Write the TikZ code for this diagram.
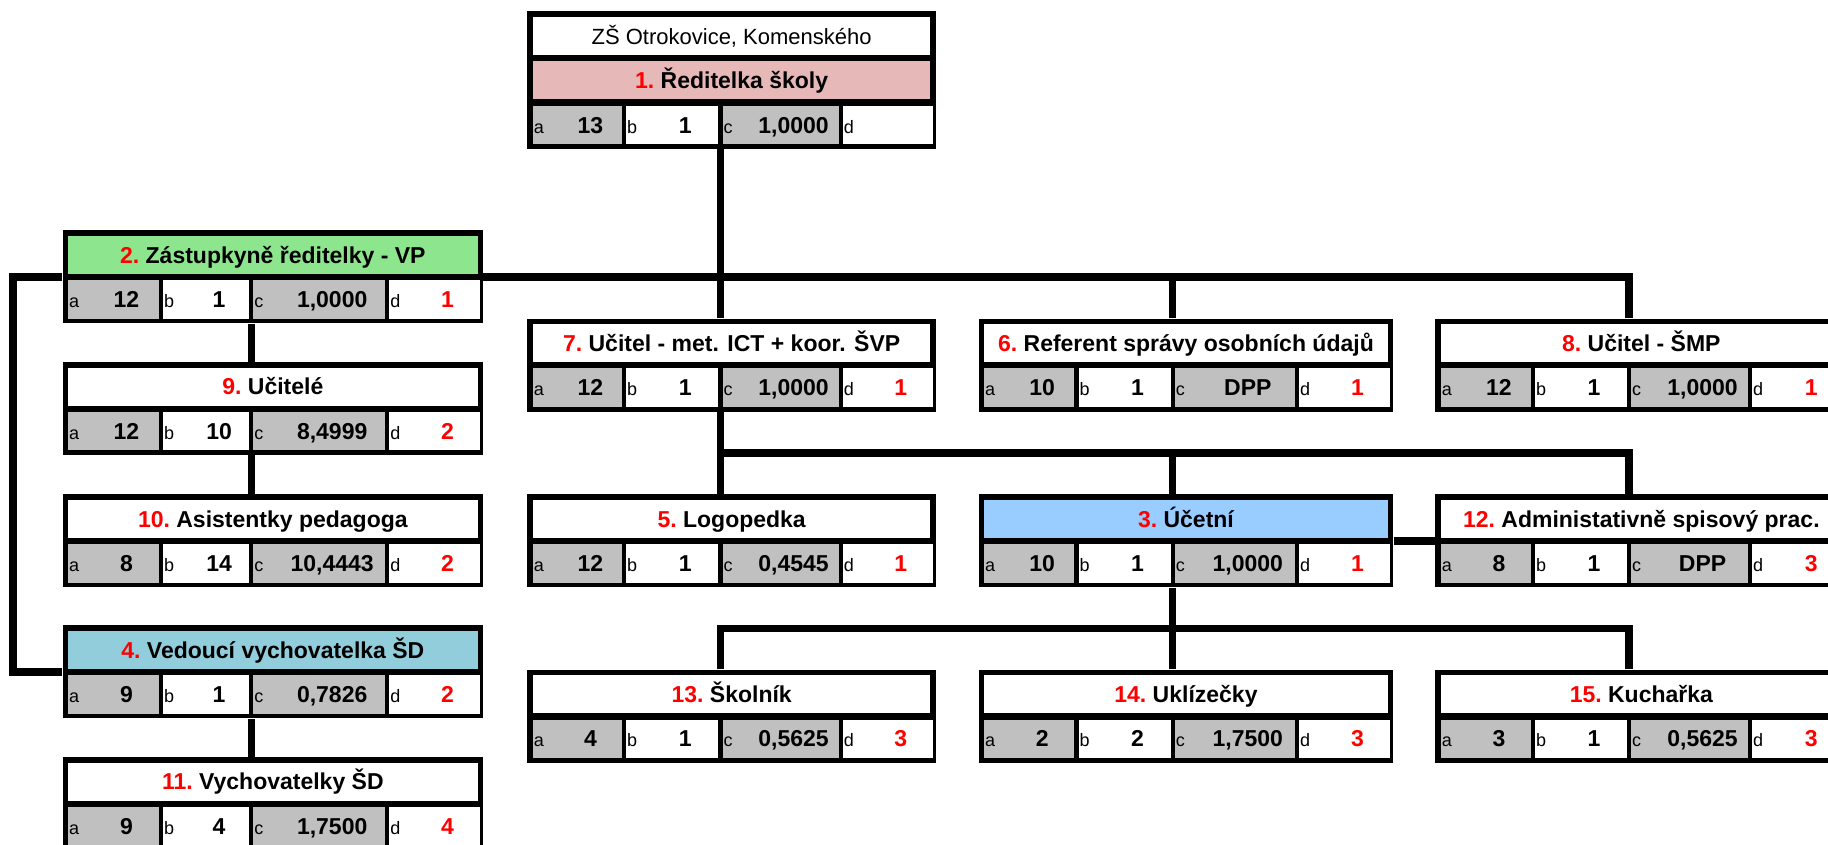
\documentclass[tikz,border=0pt]{standalone}
\usepackage{fontspec}
\setmainfont{Liberation Sans}
\usetikzlibrary{positioning,calc}

\definecolor{hdrpink}{RGB}{230,184,183}
\definecolor{hdrgreen}{RGB}{141,230,141}
\definecolor{hdrblue}{RGB}{153,204,255}
\definecolor{hdrteal}{RGB}{146,205,220}
\definecolor{cellgray}{RGB}{192,192,192}

\pgfdeclarelayer{lines}
\pgfsetlayers{lines,main}

\newdimen\cwa \newdimen\cwb \newdimen\cwc \newdimen\cwd
\newdimen\boxw \newdimen\hdrw
\newcommand{\setcols}[4]{%
  \cwa=0.5\dimexpr#1pt\relax \cwb=0.5\dimexpr#2pt\relax
  \cwc=0.5\dimexpr#3pt\relax \cwd=0.5\dimexpr#4pt\relax
  \hdrw=\dimexpr\cwa+\cwb+\cwc+\cwd+5.25pt\relax
  \boxw=\dimexpr\hdrw+5.5pt\relax}
\newcommand{\nr}[1]{{\color{red}#1.}\ }
\newcommand{\cellval}[3]{\hbox to #1{\kern0.5pt\rlap{\fontsize{9}{10}\selectfont #2}\kern12.5pt\hfil\bfseries #3\hfil}}

\tikzset{
  frame/.style={fill=black, inner sep=0pt, minimum height=46.5pt},
  hdr/.style={inner sep=0pt, minimum height=19pt, text height=8.2pt, text depth=0pt,
    font=\fontsize{11.5}{13}\selectfont\bfseries},
  cell/.style={fill=white, inner sep=0pt, minimum height=19.25pt, text height=8.2pt, text depth=0pt,
    font=\fontsize{11.5}{13}\selectfont},
  link/.style={line width=3.75pt},
}

\newcommand{\orgbox}[9][white]{%
  \node[frame, minimum width=\boxw, anchor=north west] (#2) at (#3,#4) {};
  \node[hdr, fill=#1, minimum width=\hdrw, anchor=north west] (#2h)
    at ([shift={(2.75pt,-2.75pt)}]#2.north west) {#5};
  \node[cell, fill=cellgray, below right=2.75pt and 0pt of #2h.south west] (#2a) {\cellval\cwa{a}{#6}};
  \node[cell, right=1.75pt of #2a] (#2b) {\cellval\cwb{b}{#7}};
  \node[cell, fill=cellgray, right=1.75pt of #2b] (#2c) {\cellval\cwc{c}{#8}};
  \node[cell, right=1.75pt of #2c] (#2d) {\cellval\cwd{d}{\color{red}#9}};
  \coordinate (#2-bc) at ([xshift=0.875pt]#2b.east);
  \coordinate (#2-n) at (#2-bc |- #2.north);
  \coordinate (#2-s) at (#2-bc |- #2.south);
  \coordinate (#2-w) at ([shift={(-2.75pt,-1.375pt)}]#2h.south west);
  \coordinate (#2-e) at ([shift={(2.75pt,-1.375pt)}]#2h.south east);
}

\begin{document}
\begin{tikzpicture}[x=0.5pt, y=-0.5pt]
\useasboundingbox (0,0) rectangle (1828,845);
\clip (0,0) rectangle (1828,845);

\setcols{90.6}{86}{131.6}{90.6}
\orgbox[hdrgreen]{b2}{62.3}{230}{\nr{2}Zástupkyně ředitelky - VP}{12}{1}{1,0000}{1}
\orgbox{b9}{62.3}{361.7}{\nr{9}Učitelé}{12}{10}{8,4999}{2}
\orgbox{b10}{62.3}{494}{\nr{10}Asistentky pedagoga}{8}{14}{10,4443}{2}
\orgbox[hdrteal]{b4}{62.3}{625}{\nr{4}Vedoucí vychovatelka ŠD}{9}{1}{0,7826}{2}
\orgbox{b11}{62.3}{756.7}{\nr{11}Vychovatelky ŠD}{9}{4}{1,7500}{4}

\setcols{89}{92}{116}{90}
\node[frame, minimum width=\boxw, minimum height=23.5pt, anchor=north west] (b0) at (527,11) {};
\node[hdr, fill=white, font=\fontsize{11}{13}\selectfont, minimum width=\hdrw, anchor=north west] (b0t)
  at ([shift={(2.75pt,-2.75pt)}]b0.north west) {ZŠ Otrokovice, Komenského};
\orgbox[hdrpink]{b1}{527}{55.5}{\nr{1}Ředitelka školy}{13}{1}{1,0000}{}
\orgbox{b7}{527}{318.3}{\nr{7}Učitel - met. ICT + koor. ŠVP}{12}{1}{1,0000}{1}
\orgbox{b5}{527}{494}{\nr{5}Logopedka}{12}{1}{0,4545}{1}
\orgbox{b13}{527}{669.3}{\nr{13}Školník}{4}{1}{0,5625}{3}

\setcols{90}{92}{120}{91}
\orgbox{b6}{978.3}{318.3}{\nr{6}Referent správy osobních údajů}{10}{1}{DPP}{1}
\orgbox[hdrblue]{b3}{978.3}{494}{\nr{3}Účetní}{10}{1}{1,0000}{1}
\orgbox{b14}{978.3}{669.3}{\nr{14}Uklízečky}{2}{2}{1,7500}{3}

\setcols{90}{91.7}{116.7}{92}
\orgbox{b8}{1435}{318.3}{\nr{8}Učitel - ŠMP}{12}{1}{1,0000}{1}
\orgbox{b12}{1435}{494}{\nr{12}Administativně spisový prac.}{8}{1}{DPP}{3}
\orgbox{b15}{1435}{669.3}{\nr{15}Kuchařka}{3}{1}{0,5625}{3}

\begin{pgfonlayer}{lines}
\coordinate (lft) at (13,0);
\draw[link] (b1-s) -- (b7-n);
\draw[link] (b8-n) |- (b2-e);
\draw[link] (b6-n) -- (b6-n |- b2-e);
\draw[link] (b2-w) -- (b2-w -| lft) |- (b4-w);
\draw[link] (b2-s) -- (b9-n);
\draw[link] (b9-s) -- (b10-n);
\draw[link] (b4-s) -- (b11-n);
\coordinate (busB) at ($(b7-s)!0.5!(b5-n)$);
\draw[link] (b7-s) -- (b5-n);
\draw[link] (busB) -| (b12-n);
\draw[link] (b3-n) -- (b3-n |- busB);
\draw[link] (b3-e) -- (b12-w);
\coordinate (busC) at ($(b3-s)!0.5!(b14-n)$);
\draw[link] (b3-s) -- (b14-n);
\draw[link] (b13-n) |- (busC) -| (b15-n);
\end{pgfonlayer}
\end{tikzpicture}
\end{document}
